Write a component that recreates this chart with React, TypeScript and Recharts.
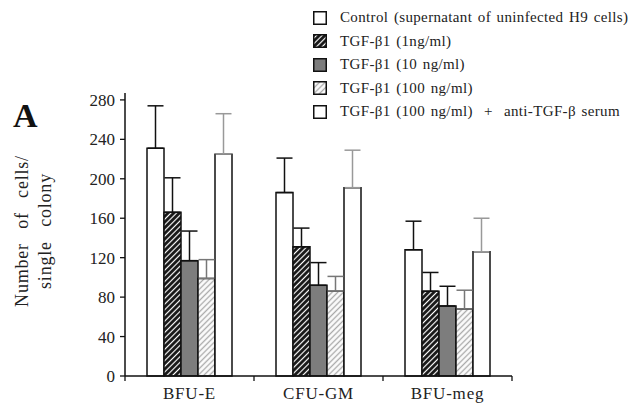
import React from 'react';
import { BarChart, Bar, XAxis, YAxis, ErrorBar } from 'recharts';

const categories = ['BFU-E', 'CFU-GM', 'BFU-meg'];
const control = [231, 186, 128];
const controlSd = [43, 35, 29];
const tgf1 = [166, 131, 86];
const tgf1Sd = [35, 19, 19];
const tgf10 = [117, 92, 71];
const tgf10Sd = [30, 23, 20];
const tgf100 = [99, 86, 68];
const tgf100Sd = [19, 15, 19];
const anti = [225, 191, 126];
const antiSd = [41, 38, 34];
const yTicks = [0, 40, 80, 120, 160, 200, 240, 280];

const seriesNames = [
  'Control (supernatant of uninfected H9 cells)',
  'TGF-β1 (1ng/ml)',
  'TGF-β1 (10 ng/ml)',
  'TGF-β1 (100 ng/ml)',
  'TGF-β1 (100 ng/ml)  +  anti-TGF-β serum',
];

const data = categories.map((name, i) => ({
  name,
  control: control[i],
  controlErr: [0, controlSd[i]],
  tgf1: tgf1[i],
  tgf1Err: [0, tgf1Sd[i]],
  tgf10: tgf10[i],
  tgf10Err: [0, tgf10Sd[i]],
  tgf100: tgf100[i],
  tgf100Err: [0, tgf100Sd[i]],
  anti: anti[i],
  antiErr: [0, antiSd[i]],
}));

const W = 637;
const H = 407;
const Y_AXIS_W = 40;
const X_AXIS_H = 30;
const M = { top: 93, right: 125, bottom: 31 - X_AXIS_H, left: 125 - Y_AXIS_W };
const band = (W - 125 - M.right) / categories.length;
const font = '"Liberation Serif", "Times New Roman", serif';

const fills = ['#fff', 'url(#hatchDark)', '#7d7d7d', 'url(#hatchLight)', '#fff'];
const errColors = ['#111', '#111', '#111', '#777', '#999'];
const keys = ['control', 'tgf1', 'tgf10', 'tgf100', 'anti'];

const Patterns = () => (
  <svg width={0} height={0} style={{ position: 'absolute' }}>
    <defs>
      <pattern id="hatchDark" width={4} height={4} patternUnits="userSpaceOnUse" patternTransform="rotate(45)">
        <rect width={4} height={4} fill="#fff" />
        <line x1={1.5} y1={0} x2={1.5} y2={4} stroke="#111" strokeWidth={2.8} />
      </pattern>
      <pattern id="hatchLight" width={4} height={4} patternUnits="userSpaceOnUse" patternTransform="rotate(45)">
        <rect width={4} height={4} fill="#fff" />
        <line x1={1.5} y1={0} x2={1.5} y2={4} stroke="#aaa" strokeWidth={1.4} />
      </pattern>
    </defs>
  </svg>
);

const XTick = (props: any) => {
  const { x, y, payload, index } = props;
  return (
    <g>
      <line x1={x - band / 2} y1={y} x2={x - band / 2} y2={y + 5} stroke="#111" strokeWidth={1.3} />
      {index === categories.length - 1 && (
        <line x1={x + band / 2} y1={y} x2={x + band / 2} y2={y + 5} stroke="#111" strokeWidth={1.3} />
      )}
      <text x={x} y={y + 23} textAnchor="middle" fontSize={17} letterSpacing={0.8} fontFamily={font} fill="#222">
        {payload.value}
      </text>
    </g>
  );
};

const LegendBox = () => (
  <div
    style={{
      position: 'absolute',
      top: 6,
      left: 313,
      fontFamily: font,
      fontSize: 15,
      letterSpacing: 0.35,
      wordSpacing: 1.5,
      color: '#222',
    }}
  >
    {seriesNames.map((n, i) => (
      <div key={n} style={{ display: 'flex', alignItems: 'center', height: 23.5 }}>
        <svg width={14} height={14} style={{ marginRight: 13 }}>
          <rect x={0.75} y={0.75} width={12.5} height={12.5} fill={fills[i]} stroke="#111" strokeWidth={1.5} />
        </svg>
        <span style={{ whiteSpace: 'pre' }}>{n}</span>
      </div>
    ))}
  </div>
);

export default function App() {
  return (
    <div style={{ position: 'absolute', left: 0, top: 0, width: W, height: H, background: '#fff' }}>
      <Patterns />
      <BarChart width={W} height={H} data={data} margin={M} barGap={0} barSize={17}>
        <XAxis
          dataKey="name"
          height={X_AXIS_H}
          axisLine={{ stroke: '#111', strokeWidth: 1.5 }}
          tickLine={false}
          tickSize={0}
          tickMargin={0}
          tick={<XTick />}
          interval={0}
        />
        <YAxis
          domain={[0, 287]}
          ticks={yTicks}
          interval={0}
          axisLine={{ stroke: '#111', strokeWidth: 1.5 }}
          tickLine={{ stroke: '#111', strokeWidth: 1.3 }}
          tickSize={5}
          tickMargin={5}
          tick={{ fill: '#222', fontSize: 17, fontFamily: font }}
          width={Y_AXIS_W}
        />
        {keys.map((k, i) => (
          <Bar key={k} dataKey={k} name={seriesNames[i]} fill={fills[i]} stroke="#111" strokeWidth={1.5} isAnimationActive={false}>
            <ErrorBar dataKey={`${k}Err`} width={8} stroke={errColors[i]} strokeWidth={1.5} />
          </Bar>
        ))}
      </BarChart>
      <LegendBox />
      <svg width={W} height={H} style={{ position: 'absolute', left: 0, top: 0, pointerEvents: 'none' }}>
        <text x={13} y={127} fontSize={34} fontWeight="bold" fontFamily={font} fill="#111">A</text>
        <text
          transform="translate(28,231) rotate(-90)"
          textAnchor="middle"
          fontSize={18}
          fontFamily={font}
          fill="#222"
          wordSpacing={9}
          letterSpacing={0.8}
        >
          Number of cells/
        </text>
        <text
          transform="translate(51,231) rotate(-90)"
          textAnchor="middle"
          fontSize={18}
          fontFamily={font}
          fill="#222"
          wordSpacing={9}
          letterSpacing={0.8}
        >
          single colony
        </text>
      </svg>
    </div>
  );
}
